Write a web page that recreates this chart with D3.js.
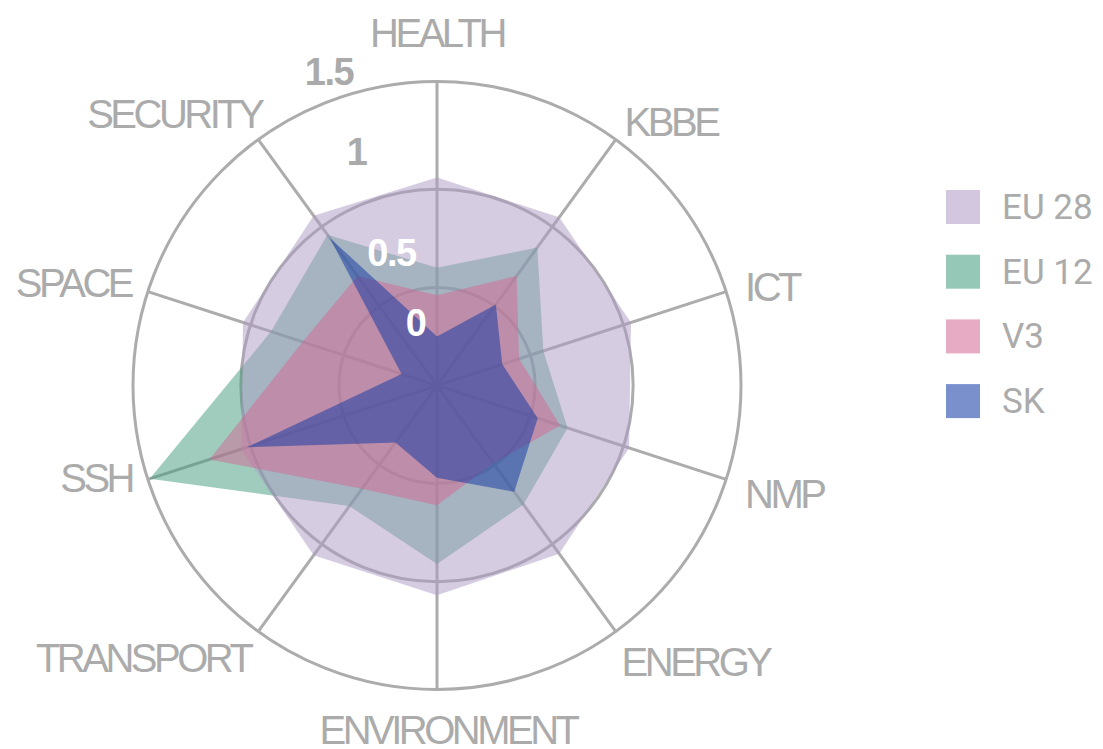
<!DOCTYPE html>
<meta charset="utf-8">
<style>
    body { margin: 0; background: #fff; }
    .axis-label { font-family: "Liberation Sans", Arial, sans-serif; font-size: 40px; fill: #ababab; letter-spacing: -3.5px; }
    .tick-label { font-family: "Liberation Sans", Arial, sans-serif; font-size: 38px; font-weight: bold; letter-spacing: -1.5px; }
    .legend text { font-family: Roboto, "Liberation Sans", sans-serif; font-size: 35px; fill: #ababab; }
    .grid { fill: none; stroke: #acacac; stroke-width: 3; }
</style>
<body>
<script src="https://d3js.org/d3.v7.min.js"></script>
<script>

var axes = ["HEALTH", "KBBE", "ICT", "NMP", "ENERGY", "ENVIRONMENT", "TRANSPORT", "SSH", "SPACE", "SECURITY"];

var eu28 = [1.06, 1.06, 1.04, 1.03, 1.06, 1.07, 1.07, 1.05, 1.04, 1.07];
var eu12 = [0.60, 0.87, 0.57, 0.70, 0.75, 0.91, 0.76, 1.54, 0.89, 0.95];
var v3   = [0.46, 0.69, 0.44, 0.66, 0.49, 0.61, 0.65, 1.22, 0.72, 0.69];
var sk   = [0.25, 0.51, 0.35, 0.54, 0.67, 0.47, 0.36, 1.02, 0.19, 0.93];

var seriesNames = ["EU 28", "EU 12", "V3", "SK"];
var seriesColors = ["#ad99c5", "#3f9a7c", "#d46894", "#0b35a2"];
var drawOrder = ["EU 12", "EU 28", "V3", "SK"];

var ringValues = [0.5, 1];
var maxValue = 1.55;
var tickValues = [0, 0.5, 1, 1.5];
var tickText = ["0", "0.5", "1", "1.5"];

var width = 1103, height = 749,
    cx = 437, cy = 385.5, R = 304;

// small hand nudges for the axis names, [dx, dy]
var labelNudge = [[0, -2], [-4, 20], [-2, 10], [-2, 0], [-7, -7], [11, -7], [5, -11], [5, -16], [4, 6], [16, 12]];

var series = {
    "EU 28": eu28,
    "EU 12": eu12,
    "V3": v3,
    "SK": sk
};

var r = d3.scaleLinear().domain([0, maxValue]).range([0, R]);
var angle = d3.scalePoint().domain(axes).range([0, 2 * Math.PI * (axes.length - 1) / axes.length]);
var color = d3.scaleOrdinal().domain(seriesNames).range(seriesColors);

// where the value labels sit, along a slanted line left of the top axis
var tickPos = d3.scaleLinear().domain([0, 0.5, 1, 1.5]).range([66, 140, 247, 332]);
var tickAngle = -19 * Math.PI / 180;

var svg = d3.select("body").append("svg")
    .attr("width", width)
    .attr("height", height);

var g = svg.append("g")
    .attr("transform", "translate(" + cx + "," + cy + ")");

// grid
g.selectAll("circle.ring")
    .data(ringValues.concat([maxValue]))
    .enter().append("circle")
    .attr("class", "grid ring")
    .attr("r", function(d) { return r(d); });

g.selectAll("line.spoke")
    .data(axes)
    .enter().append("line")
    .attr("class", "grid spoke")
    .attr("x1", 0).attr("y1", 0)
    .attr("x2", function(d) { return r(maxValue) * Math.sin(angle(d)); })
    .attr("y2", function(d) { return -r(maxValue) * Math.cos(angle(d)); });

// areas
var radial = d3.lineRadial()
    .angle(function(d, i) { return angle(axes[i]); })
    .radius(function(d) { return r(d); })
    .curve(d3.curveLinearClosed);

g.selectAll("path.area")
    .data(drawOrder)
    .enter().append("path")
    .attr("class", "area")
    .attr("d", function(name) { return radial(series[name]); })
    .attr("fill", function(name) { return color(name); })
    .attr("fill-opacity", 0.5)
    .attr("stroke", "none");

// axis names
g.selectAll("text.axis-label")
    .data(axes)
    .enter().append("text")
    .attr("class", "axis-label")
    .attr("x", function(d, i) { return (R + 22) * Math.sin(angle(d)) + labelNudge[i][0]; })
    .attr("y", function(d, i) { return -(R + 47) * Math.cos(angle(d)) + 14 + labelNudge[i][1]; })
    .attr("text-anchor", function(d) {
        var s = Math.sin(angle(d));
        return s > 0.1 ? "start" : (s < -0.1 ? "end" : "middle");
    })
    .text(function(d) { return d; });

// value labels
g.selectAll("text.tick-label")
    .data(tickValues)
    .enter().append("text")
    .attr("class", "tick-label")
    .attr("x", function(d) { return tickPos(d) * Math.sin(tickAngle); })
    .attr("y", function(d) { return -tickPos(d) * Math.cos(tickAngle) + 13; })
    .attr("text-anchor", "middle")
    .attr("fill", function(d) { return d < 1 ? "#ffffff" : "#aaaaaa"; })
    .text(function(d, i) { return tickText[i]; });

// legend
var legend = svg.append("g")
    .attr("class", "legend")
    .attr("transform", "translate(946,190)");

var item = legend.selectAll("g")
    .data(seriesNames)
    .enter().append("g")
    .attr("transform", function(d, i) { return "translate(0," + (i * 64.7) + ")"; });

item.append("rect")
    .attr("width", 34)
    .attr("height", 34)
    .attr("fill", function(d) { return color(d); })
    .attr("fill-opacity", 0.55);

item.append("text")
    .attr("x", 56)
    .attr("y", 29)
    .text(function(d) { return d; });

</script>
</body>
